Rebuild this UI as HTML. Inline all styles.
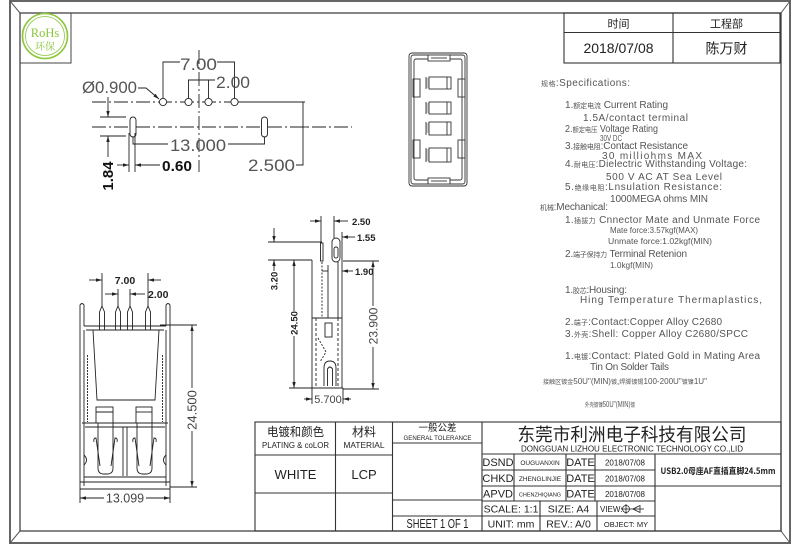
<!DOCTYPE html>
<html><head><meta charset="utf-8"><style>
html,body{margin:0;padding:0;background:#fff;}
svg{display:block;}
text{font-family:"Liberation Sans","Noto Sans CJK SC",sans-serif;}
.cjk{font-family:"Noto Sans CJK SC","WenQuanYi Zen Hei",sans-serif;}
.sp{fill:#555;font-size:10px;white-space:pre;}
.sp tspan.c{font-size:7px;}
</style></head><body>
<svg width="800" height="545" viewBox="0 0 800 545" xmlns="http://www.w3.org/2000/svg">
<defs>
<marker id="ar" viewBox="0 0 7 4" refX="7" refY="2" markerWidth="6" markerHeight="3.5" markerUnits="userSpaceOnUse" orient="auto"><path d="M0,0 L7,2 L0,4 z" fill="#222"/></marker>
</defs>
<rect width="800" height="545" fill="#fff"/>

<!-- frame -->
<rect x="10" y="1" width="780" height="542" fill="none" stroke="#666" stroke-width="2"/>
<rect x="20" y="13" width="761" height="518" fill="none" stroke="#444" stroke-width="1.3"/>
<g stroke="#555" stroke-width="1">
<line x1="10" y1="1" x2="20" y2="13"/><line x1="790" y1="1" x2="781" y2="13"/>
<line x1="790" y1="543" x2="781" y2="531"/><line x1="10" y1="543" x2="20" y2="531"/>
</g>

<!-- RoHS -->
<rect x="20" y="13" width="51" height="50" fill="none" stroke="#444" stroke-width="1"/>
<circle cx="45" cy="36" r="22.5" fill="none" stroke="#8dc63f" stroke-width="1.6"/>
<circle cx="45" cy="36" r="19.5" fill="none" stroke="#8dc63f" stroke-width="0.8"/>
<text x="45" y="37" text-anchor="middle" font-size="12.5" fill="#8dc63f" style="font-family:'Liberation Serif',serif">RoHs</text>
<text x="45" y="50" text-anchor="middle" font-size="10" fill="#8dc63f" style="font-family:'Noto Serif CJK SC','Noto Sans CJK SC',serif">环保</text>

<!-- top-right table -->
<g stroke="#333" stroke-width="1.1" fill="none">
<rect x="564" y="13" width="216" height="50"/>
<line x1="673" y1="13" x2="673" y2="63"/>
<line x1="564" y1="32.5" x2="780" y2="32.5"/>
</g>
<g fill="#222" text-anchor="middle">
<text x="618.5" y="27.5" font-size="11" class="cjk">时间</text>
<text x="726.5" y="27.5" font-size="11" class="cjk">工程部</text>
<text x="618.5" y="53" font-size="14">2018/07/08</text>
<text x="726.5" y="53.5" font-size="14" class="cjk">陈万财</text>
</g>

<!-- top-left drawing -->
<g stroke="#222" stroke-width="0.9" fill="none">
<line x1="92" y1="102" x2="240" y2="102" stroke-dasharray="14 3 2 3"/>
<line x1="238" y1="102" x2="305" y2="102"/>
<line x1="92" y1="127" x2="352" y2="127" stroke-dasharray="14 3 2 3"/>
<line x1="199" y1="50" x2="199" y2="172" stroke-dasharray="14 3 2 3"/>
<circle cx="163" cy="102" r="3.6" fill="#fff"/>
<circle cx="188.5" cy="102" r="3.6" fill="#fff"/>
<circle cx="208.5" cy="102" r="3.6" fill="#fff"/>
<circle cx="234.5" cy="102" r="3.6" fill="#fff"/>
<rect x="130" y="117" width="6" height="20" rx="3" fill="#fff"/>
<rect x="261.5" y="117" width="6" height="20" rx="3" fill="#fff"/>
<polyline points="163,98 163,62 180,62"/>
<polyline points="217,62 234.5,62 234.5,98"/>
<polyline points="188.5,98 188.5,80 215,80"/>
<line x1="208.5" y1="80" x2="208.5" y2="98"/>
<polyline points="138,88 146,88 159,99" marker-end="url(#ar)"/>
<polyline points="133,137 133,144 168,144"/>
<polyline points="228,144 264.5,144 264.5,137"/>
<line x1="129" y1="133" x2="129" y2="172"/>
<line x1="135" y1="133" x2="135" y2="172"/>
<line x1="117" y1="165" x2="129" y2="165" marker-end="url(#ar)"/>
<line x1="160" y1="165" x2="135" y2="165" marker-end="url(#ar)"/>
<line x1="100" y1="117" x2="126" y2="117"/>
<line x1="100" y1="136" x2="126" y2="136"/>
<line x1="108" y1="97" x2="108" y2="117" marker-end="url(#ar)"/>
<line x1="108" y1="157" x2="108" y2="136" marker-end="url(#ar)"/>
<polyline points="296,165 303,165 303,102"/>
<line x1="298" y1="127" x2="308" y2="127"/>
</g>
<g fill="#555" font-size="17">
<text x="180" y="70" textLength="37" lengthAdjust="spacingAndGlyphs">7.00</text>
<text x="216" y="88" textLength="34" lengthAdjust="spacingAndGlyphs">2.00</text>
<text x="82" y="93" textLength="55" lengthAdjust="spacingAndGlyphs">Ø0.900</text>
<text x="170" y="151" textLength="56" lengthAdjust="spacingAndGlyphs">13.000</text>
<text x="248" y="171" textLength="47" lengthAdjust="spacingAndGlyphs">2.500</text>
<text x="162" y="171" font-size="15" font-weight="bold" fill="#111" textLength="30" lengthAdjust="spacingAndGlyphs">0.60</text>
<text transform="translate(113,176) rotate(-90)" text-anchor="middle" font-size="15" font-weight="bold" fill="#111">1.84</text>
</g>

<!-- center view -->
<g stroke="#333" stroke-width="0.9" fill="none">
<rect x="409" y="53" width="58" height="133" rx="3"/>
<rect x="411" y="55" width="54" height="129" rx="2.5"/>
<rect x="414" y="59" width="48" height="121" rx="2"/>
<rect x="428" y="55" width="22" height="6" fill="#fff"/>
<line x1="431" y1="58" x2="447" y2="58"/>
<rect x="428" y="178" width="22" height="6" fill="#fff"/>
<line x1="431" y1="181" x2="447" y2="181"/>
<rect x="413" y="79" width="7" height="18"/>
<rect x="413" y="140" width="7" height="18"/>
<rect x="458" y="79" width="7" height="18"/>
<rect x="458" y="140" width="7" height="18"/>
<rect x="429" y="77" width="22" height="12"/>
<rect x="429" y="102" width="22" height="12"/>
<rect x="429" y="122" width="22" height="13"/>
<rect x="429" y="148" width="22" height="14"/>
<line x1="426" y1="77" x2="426" y2="89"/>
<line x1="426" y1="102" x2="426" y2="114"/>
<line x1="426" y1="122" x2="426" y2="135"/>
<line x1="426" y1="148" x2="426" y2="162"/>
<line x1="447" y1="77" x2="447" y2="89"/>
<line x1="447" y1="102" x2="447" y2="114"/>
<line x1="447" y1="122" x2="447" y2="135"/>
<line x1="447" y1="148" x2="447" y2="162"/>
</g>
<g stroke="#333" stroke-width="0.6">
<path d="M426 79h3M426 81h3M426 83h3M426 85h3M426 87h3M426 104h3M426 106h3M426 108h3M426 110h3M426 112h3M426 124h3M426 126h3M426 128h3M426 130h3M426 132h3M426 150h3M426 152h3M426 154h3M426 156h3M426 158h3M426 160h3"/>
</g>

<!-- specifications -->
<g class="sp">
<text x="541" y="86" textLength="89" lengthAdjust="spacing"><tspan class="c">规格</tspan>:Specifications:</text>
<text x="565" y="108" textLength="103" lengthAdjust="spacing">1.<tspan class="c">额定电流</tspan> Current  Rating</text>
<text x="583" y="121" textLength="105" lengthAdjust="spacing">1.5A/contact  terminal</text>
<text x="565" y="132" textLength="93" lengthAdjust="spacingAndGlyphs">2.<tspan class="c">额定电压</tspan> Voltage  Rating</text>
<text x="600" y="141" font-size="8" textLength="22" lengthAdjust="spacingAndGlyphs">30V  DC</text>
<text x="565" y="149" textLength="123" lengthAdjust="spacing">3.<tspan class="c">接触电阻</tspan>:Contact  Resistance</text>
<text x="602" y="159" textLength="100" lengthAdjust="spacing">30  milliohms  MAX</text>
<text x="565" y="167" textLength="182" lengthAdjust="spacing">4.<tspan class="c">耐电压</tspan>:Dielectric  Withstanding  Voltage:</text>
<text x="606" y="180" textLength="116" lengthAdjust="spacing">500  V  AC  AT  Sea  Level</text>
<text x="565" y="190" textLength="157" lengthAdjust="spacing">5.<tspan class="c">绝缘电阻</tspan>:Lnsulation  Resistance:</text>
<text x="610" y="202" textLength="98" lengthAdjust="spacing">1000MEGA  ohms  MIN</text>
<text x="540" y="210" textLength="68" lengthAdjust="spacing"><tspan class="c">机械</tspan>:Mechanical:</text>
<text x="565" y="223" textLength="195" lengthAdjust="spacing">1.<tspan class="c">插拔力</tspan> Cnnector  Mate  and  Unmate  Force</text>
<text x="610" y="233" font-size="8" textLength="88" lengthAdjust="spacingAndGlyphs">Mate  force:3.57kgf(MAX)</text>
<text x="608" y="244" font-size="8" textLength="104" lengthAdjust="spacingAndGlyphs">Unmate  force:1.02kgf(MIN)</text>
<text x="565" y="257" textLength="122" lengthAdjust="spacing">2.<tspan class="c">端子保持力</tspan> Terminal  Retenion</text>
<text x="610" y="268" font-size="8" textLength="43" lengthAdjust="spacingAndGlyphs">1.0kgf(MIN)</text>
<text x="565" y="293" textLength="62" lengthAdjust="spacing">1.<tspan class="c">胶芯</tspan>:Housing:</text>
<text x="580" y="303" textLength="182" lengthAdjust="spacing">Hing  Temperature    Thermaplastics,</text>
<text x="565" y="325" textLength="157" lengthAdjust="spacing">2.<tspan class="c">端子</tspan>:Contact:Copper  Alloy  C2680</text>
<text x="565" y="337" textLength="183" lengthAdjust="spacing">3.<tspan class="c">外壳</tspan>:Shell:  Copper  Alloy  C2680/SPCC</text>
<text x="565" y="359" textLength="195" lengthAdjust="spacing">1.<tspan class="c">电镀</tspan>:Contact:  Plated  Gold  in  Mating  Area</text>
<text x="590" y="370" textLength="79" lengthAdjust="spacing">Tin  On  Solder  Tails</text>
<text x="543" y="384" font-size="8" textLength="164" lengthAdjust="spacingAndGlyphs"><tspan font-size="6">接触区镀金</tspan>50U"(MIN)<tspan font-size="6">镀</tspan>,<tspan font-size="6">焊脚镀锡</tspan>100-200U"<tspan font-size="6">镀镍</tspan>1U"</text>
<text x="585" y="407" font-size="8" textLength="50" lengthAdjust="spacingAndGlyphs"><tspan font-size="6">外壳镀镍</tspan>50U"(MIN)<tspan font-size="6">镀</tspan></text>
</g>

<!-- side view -->
<g stroke="#222" stroke-width="0.9" fill="none">
<line x1="312" y1="260" x2="312" y2="388"/>
<line x1="342" y1="262" x2="342" y2="388"/>
<line x1="338" y1="262" x2="338" y2="318"/>
<line x1="312" y1="388" x2="343" y2="388"/>
<rect x="320.5" y="243" width="2.5" height="18"/>
<rect x="332" y="238" width="8" height="24" rx="4"/>
<rect x="334" y="247" width="4" height="11" rx="2"/>
<line x1="322" y1="262" x2="322" y2="318" stroke-dasharray="2 1.5"/>
<line x1="328" y1="265" x2="328" y2="318"/>
<line x1="312" y1="318" x2="342" y2="318"/>
<rect x="325" y="323" width="7" height="14"/>
<line x1="316" y1="318" x2="316" y2="386" stroke-dasharray="3 2"/>
<line x1="338" y1="318" x2="338" y2="386" stroke-dasharray="3 2"/>
<path d="M318 338 L326 352 L320 362" stroke-dasharray="2 1.5"/>
<path d="M324 386 L324 368 Q324 361 330 361 Q336 361 336 368 L336 386"/>
<path d="M327.5 386 L327.5 369 Q330 365 332.5 369 L332.5 386"/>
<line x1="321" y1="216" x2="321" y2="243"/>
<line x1="334" y1="216" x2="334" y2="238"/>
<line x1="310" y1="221" x2="321" y2="221" marker-end="url(#ar)"/>
<line x1="348" y1="221" x2="334" y2="221" marker-end="url(#ar)"/>
<line x1="342" y1="232" x2="342" y2="262"/>
<line x1="355" y1="237" x2="342" y2="237" marker-end="url(#ar)"/>
<line x1="322" y1="271" x2="328" y2="271"/>
<line x1="353" y1="271" x2="342" y2="271" marker-end="url(#ar)"/>
<line x1="268" y1="242" x2="322" y2="242"/>
<line x1="268" y1="260" x2="312" y2="260"/>
<line x1="274" y1="228" x2="274" y2="242" marker-end="url(#ar)"/>
<line x1="274" y1="271" x2="274" y2="260" marker-end="url(#ar)"/>
<line x1="294" y1="311" x2="294" y2="260" marker-end="url(#ar)"/>
<line x1="294" y1="336" x2="294" y2="388" marker-end="url(#ar)"/>
<line x1="289" y1="388" x2="312" y2="388"/>
<line x1="343" y1="261" x2="379" y2="261"/>
<line x1="343" y1="389" x2="379" y2="389"/>
<line x1="373" y1="306" x2="373" y2="261" marker-end="url(#ar)"/>
<line x1="373" y1="347" x2="373" y2="389" marker-end="url(#ar)"/>
<line x1="312" y1="388" x2="312" y2="404"/>
<line x1="343" y1="388" x2="343" y2="404"/>
<line x1="304" y1="399" x2="312" y2="399" marker-end="url(#ar)"/>
<line x1="351" y1="399" x2="343" y2="399" marker-end="url(#ar)"/>
</g>
<g fill="#222">
<text x="352" y="225" font-size="9.5" font-weight="bold">2.50</text>
<text x="357" y="241" font-size="9.5" font-weight="bold">1.55</text>
<text x="355" y="275" font-size="9.5" font-weight="bold">1.90</text>
<text transform="translate(277.5,281) rotate(-90)" text-anchor="middle" font-size="9.5" font-weight="bold">3.20</text>
<text transform="translate(297.5,323) rotate(-90)" text-anchor="middle" font-size="9.5" font-weight="bold">24.50</text>
<text transform="translate(377.5,326) rotate(-90)" text-anchor="middle" font-size="12" fill="#444">23.900</text>
<text x="328" y="403" text-anchor="middle" font-size="11" fill="#444">5.700</text>
</g>

<!-- bottom-left view -->
<g stroke="#222" stroke-width="0.9" fill="none">
<path d="M99.5 330 V312 L102 306 L104.5 312 V330"/>
<path d="M115.5 330 V312 L118 306 L120.5 312 V330"/>
<path d="M127.5 330 V312 L130 306 L132.5 312 V330"/>
<path d="M145.5 330 V312 L148 306 L150.5 312 V330"/>
<path d="M80 489 V305 Q82 302 84 305 V326"/>
<path d="M170 489 V305 Q168 302 166 305 V326"/>
<line x1="84" y1="326" x2="166" y2="326"/>
<line x1="86" y1="330" x2="164" y2="330"/>
<line x1="84" y1="330" x2="84" y2="486"/>
<line x1="166" y1="330" x2="166" y2="486"/>
<path d="M93 330 L97 400 L155 400 L159 330"/>
<line x1="87.5" y1="355" x2="87.5" y2="422" stroke-dasharray="2 1"/>
<line x1="162.5" y1="355" x2="162.5" y2="422" stroke-dasharray="2 1"/>
<rect x="96" y="407" width="17" height="16"/>
<line x1="96" y1="412" x2="113" y2="412"/>
<rect x="136" y="407" width="16" height="16"/>
<line x1="136" y1="412" x2="152" y2="412"/>
<line x1="82" y1="423" x2="168" y2="423"/>
<line x1="85" y1="427" x2="165" y2="427"/>
<path d="M98 423 V468 Q98 474 104 474 H107 Q113 474 113 468 V423"/>
<path d="M94 442 Q93 438 96 438 L100 466"/>
<path d="M117 442 Q118 438 115 438 L111 466"/>
<path d="M137 423 V468 Q137 474 143 474 H146 Q152 474 152 468 V423"/>
<path d="M133 442 Q132 438 135 438 L139 466"/>
<path d="M156 442 Q157 438 154 438 L150 466"/>
<line x1="123" y1="427" x2="123" y2="476"/>
<line x1="127" y1="427" x2="127" y2="476"/>
<line x1="84" y1="477" x2="166" y2="477"/>
<line x1="80" y1="482" x2="170" y2="482"/>
<line x1="80" y1="489" x2="170" y2="489"/>
<path d="M84 455 Q89 460 84 465"/>
<path d="M166 455 Q161 460 166 465"/>
<line x1="102" y1="273" x2="102" y2="306"/>
<line x1="148" y1="273" x2="148" y2="306"/>
<line x1="89" y1="280" x2="102" y2="280" marker-end="url(#ar)"/>
<line x1="161" y1="280" x2="148" y2="280" marker-end="url(#ar)"/>
<line x1="118" y1="289" x2="118" y2="306"/>
<line x1="130" y1="289" x2="130" y2="306"/>
<line x1="105" y1="294" x2="118" y2="294" marker-end="url(#ar)"/>
<line x1="145" y1="294" x2="130" y2="294" marker-end="url(#ar)"/>
<line x1="160" y1="325" x2="197" y2="325"/>
<line x1="170" y1="487" x2="197" y2="487"/>
<line x1="192" y1="388" x2="192" y2="325" marker-end="url(#ar)"/>
<line x1="192" y1="431" x2="192" y2="487" marker-end="url(#ar)"/>
<line x1="80" y1="489" x2="80" y2="503"/>
<line x1="170" y1="489" x2="170" y2="503"/>
<line x1="104" y1="498" x2="80" y2="498" marker-end="url(#ar)"/>
<line x1="146" y1="498" x2="170" y2="498" marker-end="url(#ar)"/>
</g>
<g fill="#222">
<text x="125" y="284" text-anchor="middle" font-size="10.5" font-weight="bold">7.00</text>
<text x="148" y="298" font-size="10.5" font-weight="bold">2.00</text>
<text transform="translate(196.5,410) rotate(-90)" text-anchor="middle" font-size="13" fill="#444">24.500</text>
<text x="125" y="502.5" text-anchor="middle" font-size="12.5" fill="#444">13.099</text>
</g>

<!-- title block -->
<g stroke="#333" stroke-width="1.1" fill="none">
<rect x="255" y="422" width="526" height="109"/>
<line x1="335.5" y1="422" x2="335.5" y2="531"/>
<line x1="392.5" y1="422" x2="392.5" y2="531"/>
<line x1="482" y1="422" x2="482" y2="531"/>
<line x1="255" y1="455" x2="392.5" y2="455"/>
<line x1="255" y1="493" x2="392.5" y2="493"/>
<line x1="392.5" y1="443" x2="482" y2="443"/>
<line x1="392.5" y1="500" x2="482" y2="500"/>
<line x1="392.5" y1="516" x2="482" y2="516"/>
<line x1="482" y1="454" x2="781" y2="454"/>
<line x1="482" y1="470" x2="655" y2="470"/>
<line x1="482" y1="486" x2="781" y2="486"/>
<line x1="482" y1="501" x2="655" y2="501"/>
<line x1="482" y1="516" x2="655" y2="516"/>
<line x1="514" y1="454" x2="514" y2="501"/>
<line x1="566" y1="454" x2="566" y2="501"/>
<line x1="595" y1="454" x2="595" y2="501"/>
<line x1="655" y1="454" x2="655" y2="531"/>
<line x1="540" y1="501" x2="540" y2="531"/>
<line x1="597" y1="501" x2="597" y2="531"/>
</g>
<g fill="#222" text-anchor="middle">
<text x="295.5" y="436" font-size="12" class="cjk" textLength="57" lengthAdjust="spacingAndGlyphs">电镀和颜色</text>
<text x="295.5" y="448" font-size="8" textLength="67" lengthAdjust="spacingAndGlyphs">PLATING &amp; coLOR</text>
<text x="364" y="436" font-size="12" class="cjk">材料</text>
<text x="364" y="448" font-size="8.5" textLength="41" lengthAdjust="spacingAndGlyphs">MATERIAL</text>
<text x="437.5" y="431" font-size="9.5" class="cjk">一般公差</text>
<text x="437.5" y="440" font-size="6" textLength="68" lengthAdjust="spacingAndGlyphs">GENERAL TOLERANCE</text>
<text x="295.5" y="479" font-size="13">WHITE</text>
<text x="364" y="479" font-size="13">LCP</text>
<text x="437.5" y="528" font-size="12.5" textLength="62" lengthAdjust="spacingAndGlyphs">SHEET 1 OF 1</text>
<text x="632" y="441" font-size="18" class="cjk" textLength="229" lengthAdjust="spacingAndGlyphs">东莞市利洲电子科技有限公司</text>
<text x="632" y="451.5" font-size="8.5" textLength="222" lengthAdjust="spacingAndGlyphs">DONGGUAN LIZHOU ELECTRONIC TECHNOLOGY CO.,LID</text>
<text x="498" y="466" font-size="11">DSND</text>
<text x="498" y="482" font-size="11">CHKD</text>
<text x="498" y="497.5" font-size="11">APVD</text>
<text x="540" y="465" font-size="6.5">OUGUANXIN</text>
<text x="540" y="481" font-size="6.5">ZHENGLINJIE</text>
<text x="540" y="496.5" font-size="5.5">CHENZHIQIANG</text>
<text x="580.5" y="466" font-size="11">DATE</text>
<text x="580.5" y="482" font-size="11">DATE</text>
<text x="580.5" y="497.5" font-size="11">DATE</text>
<text x="625" y="465.5" font-size="8">2018/07/08</text>
<text x="625" y="481.5" font-size="8">2018/07/08</text>
<text x="625" y="497" font-size="8">2018/07/08</text>
<text x="511" y="512.5" font-size="10.5">SCALE: 1:1</text>
<text x="568.5" y="512.5" font-size="10.5">SIZE: A4</text>
<text x="511" y="527.5" font-size="10.5">UNIT: mm</text>
<text x="568.5" y="527.5" font-size="10.5">REV.: A/0</text>
<text x="626" y="527" font-size="7.5">OBJECT: MY</text>
<text x="718" y="474" font-size="8.5" font-weight="bold" class="cjk" textLength="115" lengthAdjust="spacingAndGlyphs">USB2.0母座AF直插直脚24.5mm</text>
</g>
<text x="600" y="512" font-size="8" fill="#222">VIEW:</text>
<g stroke="#222" stroke-width="0.8" fill="none">
<circle cx="626" cy="509" r="3.5"/>
<line x1="621" y1="509" x2="631" y2="509"/>
<line x1="626" y1="504" x2="626" y2="514"/>
<path d="M633 509 L640 505.5 L640 512.5 Z"/>
<line x1="631" y1="509" x2="644" y2="509"/>
</g>
</svg>
</body></html>
